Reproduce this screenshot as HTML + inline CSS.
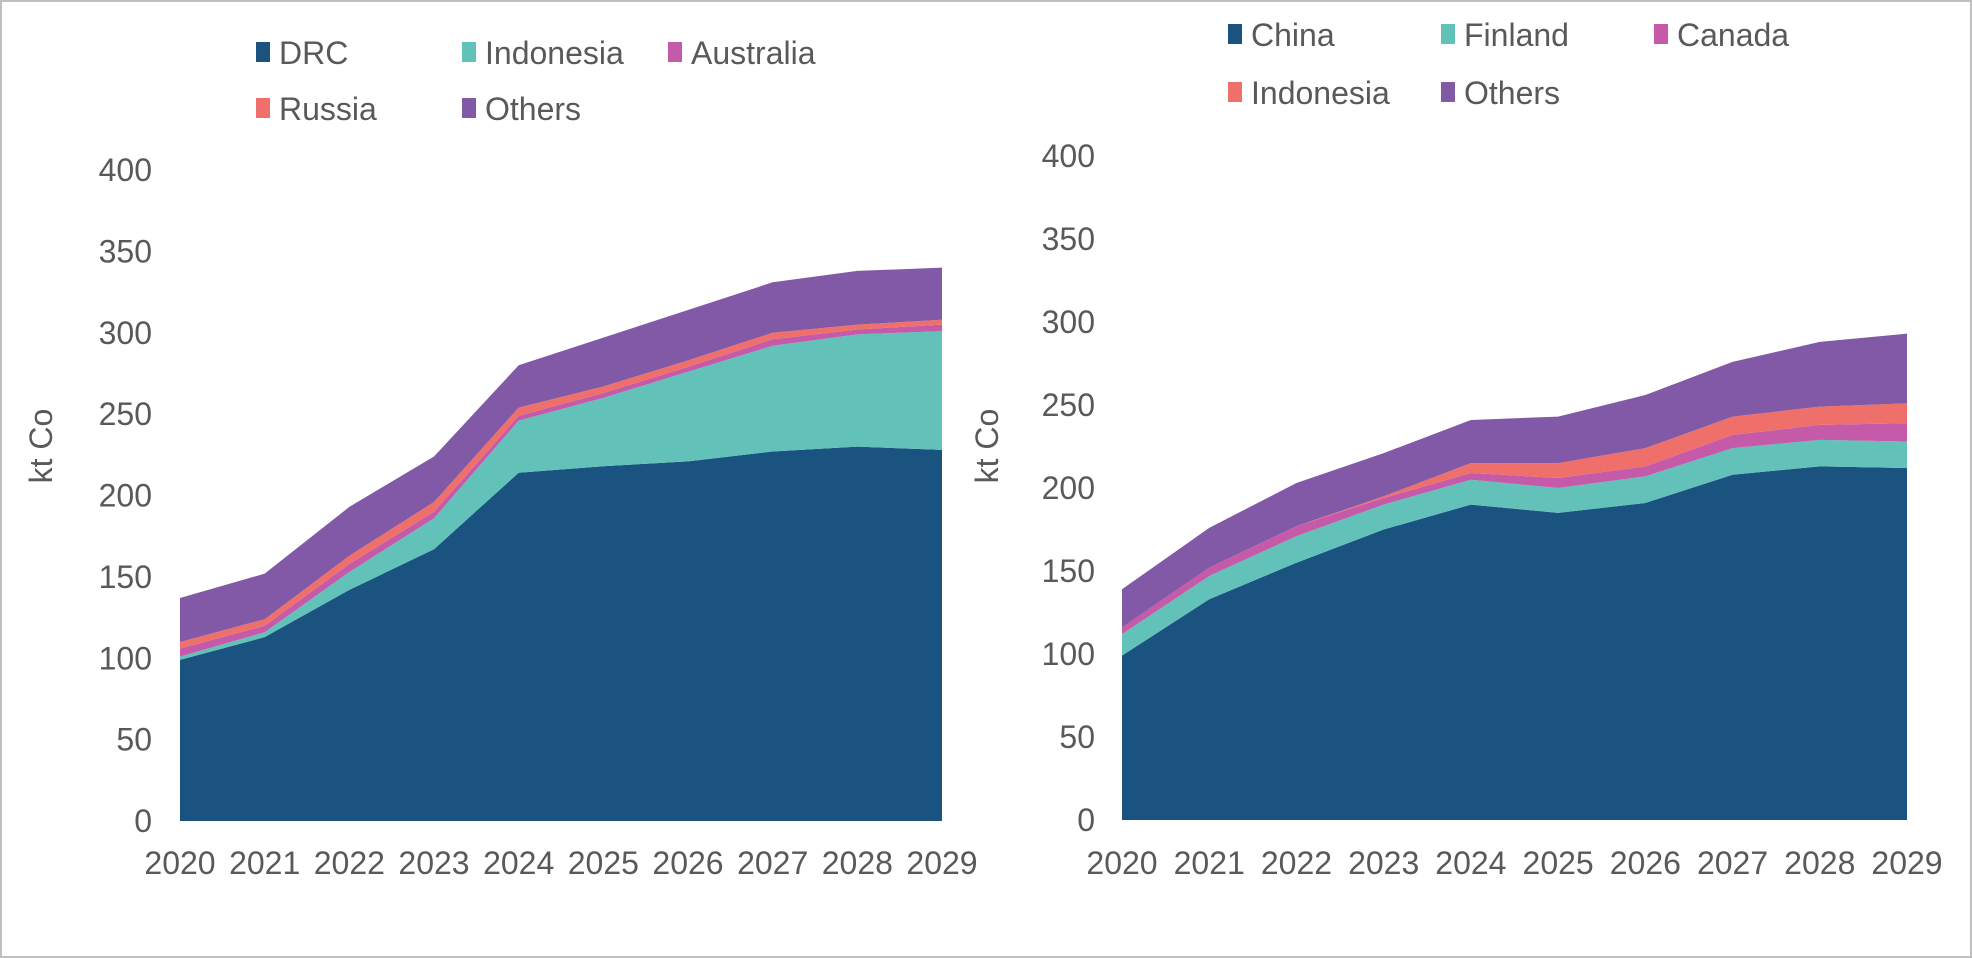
<!DOCTYPE html>
<html><head><meta charset="utf-8"><style>
html,body{margin:0;padding:0;background:#fff;}
svg{display:block;font-family:"Liberation Sans",sans-serif;}
text{fill:#595959;}
</style></head><body>
<svg id="c" width="1972" height="958">
<rect x="1" y="1" width="1970" height="956" fill="#fff" stroke="#bfbfbf" stroke-width="2"/>
</svg>
<script>
const years=["2020","2021","2022","2023","2024","2025","2026","2027","2028","2029"];
const yTicks=[0,50,100,150,200,250,300,350,400];
const leftNames=["DRC","Indonesia","Australia","Russia","Others"];
const leftDRC=[99,113,142,167,214,218,221,227,230,228];
const leftIndonesia=[2,3,11,19,32,42,55,65,69,73];
const leftAustralia=[5,4,5,4,3,3,3,4,3,4];
const leftRussia=[4,4,5,6,5,4,4,4,3,3];
const leftOthers=[27,28,30,28,26,30,31,31,33,32];
const rightNames=["China","Finland","Canada","Indonesia","Others"];
const rightChina=[99,133,155,175,190,185,191,208,213,212];
const rightFinland=[13,14,16,15,15,15,16,16,16,16];
const rightCanada=[4,5,6,4,4,6,6,8,9,11];
const rightIndonesia=[0,0,0,1,6,9,11,11,11,12];
const rightOthers=[23,24,26,26,26,28,32,33,39,42];
const colors=["#1a5380","#62c1b9","#c55aa8","#ef6f6a","#8159a6"];
const NS="http://www.w3.org/2000/svg";
const svg=document.getElementById('c');
function mk(t,a,p){const e=document.createElementNS(NS,t);for(const k in a)e.setAttribute(k,a[k]);(p||svg).appendChild(e);return e;}
function chart(id,cfg,series,names){
  const g=mk('g',{});
  
  
  const X=i=>cfg.x0+(cfg.x1-cfg.x0)*i/(years.length-1);
  const Y=v=>cfg.y0-(cfg.y0-cfg.y400)*v/400;
  let base=years.map(()=>0);
  series.forEach((s,si)=>{
    const top=base.map((b,i)=>b+s[i]);
    let d='M'+years.map((_,i)=>X(i)+','+Y(top[i])).join('L');
    for(let i=years.length-1;i>=0;i--)d+='L'+X(i)+','+Y(base[i]);
    const p=mk('path',{d:d+'Z',fill:colors[si]},g);
    
    
    base=top;
  });
  yTicks.forEach(v=>{const t=mk('text',{x:cfg.lx,y:Y(v)+11,'font-size':32,'text-anchor':'end'},g);t.textContent=v;
    
    });
  years.forEach((y,i)=>{const t=mk('text',{x:X(i),y:874,'font-size':32,'text-anchor':'middle'},g);t.textContent=y;
    
    });
  const yt=mk('text',{x:0,y:0,'font-size':32,'text-anchor':'middle',transform:`translate(${cfg.tx},446) rotate(-90)`},g);
  yt.textContent='kt Co';
  
  
  names.forEach((n,i)=>{const [lx,ly]=cfg.leg[i];
    const r=mk('rect',{x:lx,y:ly-11,width:14,height:20,fill:colors[i]},g);
    
    
    const t=mk('text',{x:lx+23,y:ly+11,'font-size':32},g);t.textContent=n;
    
    });
}
chart('left-chart',{x0:180,x1:942,y0:821,y400:170,lx:152,tx:52,
  leg:[[256,53],[462,53],[668,53],[256,109],[462,109]]},
  [leftDRC,leftIndonesia,leftAustralia,leftRussia,leftOthers],leftNames);
chart('right-chart',{x0:1122,x1:1907,y0:820,y400:156,lx:1095,tx:998,
  leg:[[1228,35],[1441,35],[1654,35],[1228,93],[1441,93]]},
  [rightChina,rightFinland,rightCanada,rightIndonesia,rightOthers],rightNames);
</script>
</body></html>
